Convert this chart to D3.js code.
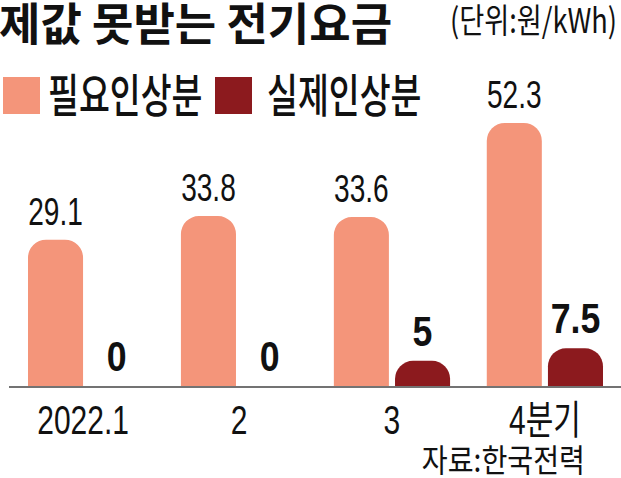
<!DOCTYPE html>
<html>
<head>
<meta charset="utf-8">
<script src="https://cdn.jsdelivr.net/npm/d3@7"></script>
<style>
  body { margin: 0; background: #fff; }
  svg { display: block; }
  text { font-family: "Liberation Sans", "Noto Sans CJK KR", sans-serif; fill: #111; }
</style>
</head>
<body>
<div id="chart"></div>
<script>
// data
const quarters = ['2022.1', '2', '3', '4분기'];
const needed = [29.1, 33.8, 33.6, 52.3];   // 필요인상분
const actual = [0, 0, 5, 7.5];             // 실제인상분
const seriesNames = ['필요인상분', '실제인상분'];
const colors = ['#f4957a', '#8c1a1e'];

const W = 621, H = 478;
const base = 386;

const svg = d3.select('#chart').append('svg')
    .attr('width', W)
    .attr('height', H);

const x0 = d3.scaleBand().domain(quarters).range([28, 603]).paddingInner(0.24).paddingOuter(0);
const x1 = d3.scaleBand().domain(seriesNames).range([0, x0.bandwidth()]).paddingInner(0.1);
const y = d3.scaleLinear().domain([0, 52.3]).range([base, 123]);

// squeezed text helper (the original font is a condensed gothic)
function label(g, x, yy, txt, opts) {
    const t = g.append('g').attr('transform', `translate(${x},${yy}) scale(${opts.sx || 1},1)`)
        .append('text')
        .attr('text-anchor', opts.anchor || 'start')
        .attr('font-size', opts.size)
        .attr('font-weight', opts.weight || 400)
        .text(txt);
    if (opts.family) t.style('font-family', opts.family);
    return t;
}

function roundTop(x, yTop, w, h, r) {
    r = Math.min(r, w / 2, h);
    return `M${x},${yTop + h}V${yTop + r}A${r},${r} 0 0 1 ${x + r},${yTop}H${x + w - r}A${r},${r} 0 0 1 ${x + w},${yTop + r}V${yTop + h}Z`;
}

// title + unit
label(svg, -1, 41, '제값 못받는 전기요금', { size: 45, weight: 700, family: '"Noto Sans CJK KR", sans-serif' });
label(svg, 617, 33, '(단위:원/kWh)', { size: 34, sx: 0.8, anchor: 'end', family: '"Noto Sans CJK KR", sans-serif' });

// legend
const legX = [3, 215], legT = [48, 267];
seriesNames.forEach((s, i) => {
    svg.append('rect').attr('x', legX[i]).attr('y', 77).attr('width', 37).attr('height', 37).attr('fill', colors[i]);
    label(svg, legT[i], 112, s, { size: 46, sx: 0.73, weight: 500, family: '"Noto Sans CJK KR", sans-serif' });
});

// bars
const groups = svg.selectAll('g.grp')
    .data(quarters.map((q, i) => ({ q, vals: [needed[i], actual[i]] })))
    .enter().append('g')
    .attr('class', 'grp')
    .attr('transform', d => `translate(${x0(d.q)},0)`);

groups.each(function(d) {
    const g = d3.select(this);
    d.vals.forEach((v, i) => {
        const bx = x1(seriesNames[i]), bw = x1.bandwidth();
        if (v > 0) {
            g.append('path')
                .attr('d', roundTop(bx, y(v), bw, base - y(v), 18))
                .attr('fill', colors[i]);
        }
        if (i === 0) {
            label(g, bx + bw / 2, y(v) - 15, d3.format('.1f')(v), { size: 39, sx: 0.72, anchor: 'middle' });
        } else {
            label(g, bx + bw / 2, y(v) - 15, String(v), { size: 42, sx: 0.85, anchor: 'middle', weight: 700 });
        }
    });
});

// baseline
svg.append('line')
    .attr('x1', 9).attr('x2', W)
    .attr('y1', base + 1).attr('y2', base + 1)
    .attr('stroke', '#444').attr('stroke-width', 1.5);

// x labels
quarters.forEach((q, i) => {
    const cx = x0(q) + x0.bandwidth() / 2 - (i === 0 ? 3 : 0);
    label(svg, cx, 434, q, { size: 40, sx: 0.75, anchor: 'middle' });
});

// source
label(svg, 585, 472, '자료:한국전력', { size: 32, sx: 0.88, anchor: 'end', family: '"Noto Sans CJK KR", sans-serif' });
</script>
</body>
</html>
